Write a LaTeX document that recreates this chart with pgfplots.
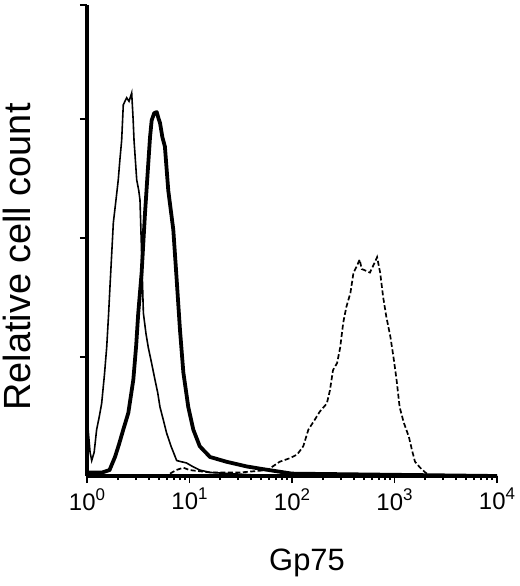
\documentclass[border=0pt]{standalone}
\usepackage{fontspec}
\setmainfont{Liberation Sans}
\usepackage{pgfplots}
\pgfplotsset{compat=1.18}
\newcommand{\tl}[1]{\mbox{\fontsize{24}{26}\selectfont 10\raisebox{0.42em}{\fontsize{17}{17}\selectfont #1}}}
\pgfplotstableread{
lx y
0.000 0.48
0.010 0.40
0.030 0.20
0.046 0.13
0.070 0.20
0.094 0.39
0.120 0.50
0.143 0.61
0.170 0.85
0.192 1.08
0.210 1.35
0.224 1.59
0.240 1.85
0.257 2.13
0.280 2.30
0.305 2.49
0.320 2.65
0.338 2.82
0.354 3.12
0.370 3.15
0.387 3.18
0.410 3.15
0.436 3.22
0.450 3.00
0.459 2.82
0.485 2.49
0.505 2.40
0.517 2.32
0.533 1.87
0.550 1.37
0.575 1.20
0.598 1.08
0.630 0.95
0.663 0.81
0.690 0.70
0.712 0.58
0.745 0.47
0.777 0.36
0.820 0.25
0.875 0.13
0.920 0.12
0.970 0.11
1.030 0.08
1.100 0.05
1.200 0.03
1.400 0.02
1.600 0.01
4.000 0.00
}\thinser
\pgfplotstableread{
lx y
0.000 0.03
0.150 0.03
0.220 0.05
0.273 0.16
0.310 0.26
0.354 0.39
0.403 0.53
0.452 0.81
0.480 1.10
0.500 1.37
0.533 1.71
0.566 2.21
0.598 2.63
0.615 2.85
0.631 2.99
0.655 3.05
0.680 3.06
0.700 3.00
0.712 2.97
0.735 2.85
0.760 2.77
0.793 2.40
0.842 2.07
0.875 1.65
0.907 1.23
0.940 0.87
0.988 0.58
1.037 0.39
1.100 0.25
1.200 0.16
1.360 0.12
1.560 0.08
1.700 0.06
1.850 0.04
2.000 0.02
4.000 0.00
}\thickser
\pgfplotstableread{
lx y
0.81 0.02
0.87 0.05
0.94 0.07
1.00 0.05
1.20 0.03
1.50 0.03
1.76 0.05
1.88 0.12
1.98 0.15
2.05 0.18
2.11 0.25
2.16 0.39
2.22 0.47
2.27 0.54
2.34 0.61
2.37 0.72
2.40 0.89
2.44 0.95
2.47 1.08
2.50 1.29
2.53 1.42
2.57 1.54
2.60 1.71
2.63 1.76
2.66 1.82
2.68 1.74
2.71 1.73
2.76 1.71
2.81 1.80
2.83 1.84
2.86 1.71
2.89 1.50
2.92 1.34
2.96 1.17
2.99 1.00
3.02 0.81
3.05 0.58
3.09 0.45
3.14 0.33
3.17 0.22
3.20 0.12
3.25 0.07
3.30 0.03
3.35 0.00
}\dashedser
\begin{document}
\begin{tikzpicture}
\useasboundingbox (-87bp,-110bp) rectangle (433bp,476bp);
\begin{axis}[
  at={(0,0)}, anchor=south west,
  scale only axis, width=410bp, height=471bp,
  xmin=0, xmax=4, ymin=0, ymax=3.96,
  axis x line=bottom, axis y line=left,
  axis line style={-},
  x axis line style={line width=4.5pt},
  y axis line style={line width=3.2pt},
  xtick={0,1,2,3,4},
  xticklabels={\tl{0},\tl{1},\tl{2},\tl{3},\tl{4}},
  minor xtick={0.301,0.477,0.602,0.699,0.778,0.845,0.903,0.954,
               1.301,1.477,1.602,1.699,1.778,1.845,1.903,1.954,
               2.301,2.477,2.602,2.699,2.778,2.845,2.903,2.954,
               3.301,3.477,3.602,3.699,3.778,3.845,3.903,3.954},
  ytick={1,2,3,3.96}, yticklabels={},
  tick align=outside,
  major tick length=7bp, minor tick length=4bp,
  tick style={black, line width=2pt},
  xticklabel style={inner sep=0pt, anchor=north, yshift=-5bp},
  clip=false,
]
\addplot[black, line width=1.6pt] table[x=lx,y=y] {\thinser};
\addplot[black, line width=3.8pt, line join=round] table[x=lx,y=y] {\thickser};
\addplot[black, line width=1.7pt, dash pattern=on 5pt off 2.5pt] table[x=lx,y=y] {\dashedser};
\end{axis}
\node[anchor=base, font=\fontsize{31}{31}\selectfont] at (220bp,-94bp) {Gp75};
\node[rotate=90, font=\fontsize{38}{38}\selectfont] at (-70bp,219bp) {Relative cell count};
\end{tikzpicture}
\end{document}
